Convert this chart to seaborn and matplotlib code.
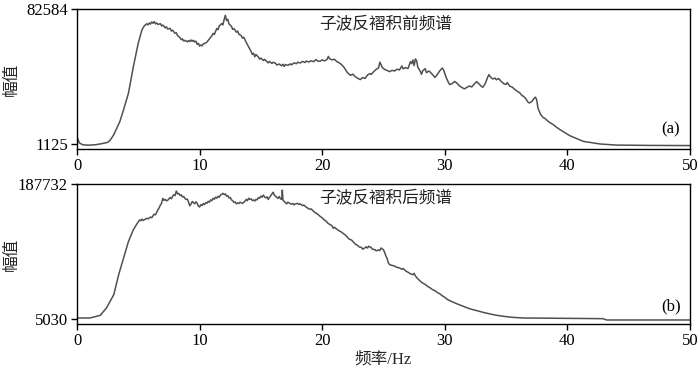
import matplotlib
matplotlib.use("Agg")
import matplotlib.pyplot as plt
import seaborn as sns
import pandas as pd

# ---- data ----
freq_a = [0, 0.2, 0.5, 1.0, 1.5, 2.0, 2.5, 2.7, 3.0, 3.5, 3.8, 4.2, 4.6, 5.0,
          5.3, 5.5, 5.7, 5.8, 5.9, 6.0, 6.1, 6.2, 6.3, 6.4, 6.5, 6.6, 6.8, 6.9, 7.0, 7.2,
          7.3, 7.4, 7.6, 7.7, 7.8, 8.0, 8.1, 8.2, 8.4, 8.5, 8.6, 8.7, 8.8, 9.0, 9.1, 9.2,
          9.3, 9.4, 9.5, 9.6, 9.7, 9.8, 9.9, 10.0, 10.1, 10.2, 10.3, 10.5, 10.6, 10.8, 11.0,
          11.1, 11.2, 11.4, 11.5, 11.6, 11.8, 11.9, 12.0, 12.1, 12.2, 12.3, 12.4, 12.6, 12.7,
          12.8, 13.0, 13.1, 13.2, 13.4, 13.5, 13.6, 13.8, 14.0, 14.2, 14.3, 14.4, 14.5, 14.6,
          14.8, 14.9, 15.0, 15.2, 15.3, 15.5, 15.6, 15.7, 15.9, 16.0, 16.2, 16.3, 16.5, 16.7,
          16.8, 16.9, 17.0, 17.2, 17.4, 17.5, 17.7, 17.9, 18.0, 18.2, 18.4, 18.6, 18.7, 18.9,
          19.1, 19.3, 19.5, 19.6, 19.8, 20.0, 20.2, 20.4, 20.5, 20.6, 20.8, 21.0, 21.2, 21.4,
          21.6, 21.8, 22.0, 22.1, 22.3, 22.5, 22.7, 22.9, 23.1, 23.3, 23.5, 23.7, 23.9, 24.0,
          24.2, 24.4, 24.6, 24.7, 24.8, 24.9, 25.1, 25.3, 25.5, 25.7, 25.9, 26.1, 26.3, 26.5,
          26.6, 26.8, 27.0, 27.2, 27.3, 27.4, 27.5, 27.6, 27.7, 27.8, 28.0, 28.1, 28.2, 28.4,
          28.5, 28.7, 28.8, 29.0, 29.2, 29.3, 29.5, 29.6, 29.8, 29.9, 30.1, 30.3, 30.4, 30.6,
          30.8, 31.0, 31.2, 31.4, 31.6, 31.8, 32.0, 32.2, 32.4, 32.6, 32.8, 33.0, 33.1, 33.3,
          33.5, 33.6, 33.7, 33.9, 34.1, 34.2, 34.4, 34.6, 34.8, 35.0, 35.1, 35.3, 35.5, 35.7,
          35.9, 36.1, 36.3, 36.4, 36.6, 36.8, 36.9, 37.1, 37.3, 37.4, 37.5, 37.6, 37.8, 38.0,
          38.2, 38.4, 38.6, 38.8, 39.0, 39.2, 39.4,
          40.2, 41.3, 42.7, 44.0, 46.7, 49.7, 50]
amp_a = [5350, 1730, 600, 450, 700, 1330, 2130, 3340, 6760, 14800, 21840, 31900, 47980, 62060,
         70100, 72500, 73720, 73000, 74200, 73500, 74800, 74000, 75000, 73600, 74200, 73300,
         73700, 72400, 72900, 71200, 71800, 70500, 70900, 69300, 69800, 67900, 68300, 66600,
         65300, 64100, 64600, 63300, 63700, 62800, 63600, 62900, 63900, 63100, 63700, 62700,
         63200, 61300, 61900, 60200, 60900, 60400, 61500, 62100, 62700, 64500, 66400, 67900,
         67200, 70800, 70100, 72300, 73800, 73000, 76200, 78800, 75600, 76400, 73600, 72100,
         70300, 70800, 68600, 69300, 67400, 66500, 65000, 65600, 62500, 59800, 57000, 55200,
         55900, 53800, 55100, 53600, 52300, 53000, 51500, 52200, 50800, 50100, 51000, 49700,
         50500, 49800, 48800, 49400, 48300, 49300, 47900, 49100, 48600, 49500, 48900, 50100,
         49600, 50500, 50000, 51000, 50300, 51200, 50600, 51400, 50800, 52100, 51300, 51000,
         51900, 51300, 52200, 54000, 52600, 51900, 52300, 50800, 50100, 48900, 47200, 44800,
         43900, 42600, 43300, 41700, 40800, 40000, 41200, 40700, 42800, 43600, 43100, 44800,
         46200, 47000, 50500, 49200, 47300, 46100, 45500, 44800, 45600, 45200, 46300, 45800,
         48200, 46500, 47200, 46700, 50800, 49600, 51900, 48400, 52500, 51400, 47500, 45000,
         43200, 45300, 46600, 44200, 45200, 44600, 43000, 41300, 42200, 44300, 45400, 47000,
         45800, 41500, 38200, 37000, 37600, 38900, 37800, 36200, 35200, 34400, 35300, 36100,
         35600, 37300, 38800, 37300, 35800, 35400, 37600, 41500, 43000, 41800, 40400, 40900,
         39900, 40600, 38900, 37600, 37100, 38200, 36000, 35500, 34100, 33000, 32100, 30400,
         30000, 28600, 26300, 25900, 26800, 28900, 29400, 27600, 22800, 19200, 17300, 16400,
         15000, 13900, 13100, 11900, 10800, 9800,
         6150, 2730, 1125, 500, 300, 200, 200]

freq_b = [0, 1.06, 1.9, 2.4, 3.0, 3.4, 3.8, 4.2,
          4.6, 4.8, 5.0, 5.1, 5.2, 5.3, 5.4, 5.5, 5.7, 5.8, 5.9, 6.0, 6.1, 6.2, 6.3, 6.4,
          6.5, 6.6, 6.7, 6.8, 6.9, 7.0, 7.1, 7.2, 7.3, 7.4, 7.5, 7.6, 7.7, 7.8, 7.9, 8.0,
          8.1, 8.2, 8.3, 8.4, 8.5, 8.6, 8.7, 8.8, 8.9, 9.0, 9.1, 9.2, 9.3, 9.4, 9.5, 9.6,
          9.7, 9.8, 9.9, 10.0, 10.1, 10.2, 10.3, 10.4, 10.5, 10.6, 10.7, 10.8, 10.9, 11.0,
          11.1, 11.2, 11.3, 11.4, 11.5, 11.6, 11.7, 11.8, 11.9, 12.0, 12.1, 12.2, 12.3, 12.4,
          12.5, 12.6, 12.7, 12.8, 12.9, 13.0, 13.1, 13.2, 13.3, 13.4, 13.5, 13.6, 13.7, 13.8,
          13.9, 14.0, 14.1, 14.2, 14.3, 14.4, 14.5, 14.6, 14.7, 14.8, 14.9, 15.0, 15.1, 15.2,
          15.3, 15.4, 15.5, 15.6, 15.7, 15.8, 15.9, 16.0, 16.1, 16.2, 16.3, 16.4, 16.5, 16.6,
          16.7, 16.75, 16.8, 16.9, 17.0, 17.1, 17.2, 17.3, 17.4, 17.5, 17.6, 17.7, 17.8, 18.0,
          18.1, 18.2, 18.4, 18.5, 18.7, 18.8, 19.0, 19.1, 19.3, 19.4, 19.6, 19.7, 19.8, 20.0,
          20.2, 20.3, 20.5, 20.6, 20.8, 20.9, 21.0, 21.2, 21.4, 21.5, 21.7, 21.9, 22.1, 22.2,
          22.4, 22.6, 22.7, 22.9, 23.0, 23.2, 23.3, 23.4, 23.6, 23.7, 23.8, 24.0, 24.1, 24.3,
          24.4, 24.6, 24.7, 24.8, 25.0, 25.1, 25.2, 25.3, 25.4, 25.5, 25.7, 25.9, 26.1, 26.3,
          26.5, 26.6, 26.8, 27.0, 27.2, 27.4, 27.5, 27.6, 27.8, 28.0, 28.2, 28.4, 28.6, 28.8,
          29.0, 29.2, 29.4, 29.6, 29.8, 30.0, 30.2, 30.4,
          31.0, 31.5, 32.0, 32.6, 33.2, 33.7, 34.2, 34.8, 35.5, 36.4, 40.0, 42.9, 43.2, 49.7, 50]
amp_b = [6380, 6380, 9990, 19920, 37960, 65030, 87580, 110140,
         125920, 131500, 136500, 139100, 138000, 140200, 138400, 139500, 141300, 140500,
         141900, 143000, 142100, 144800, 146800, 146000, 149200, 152800, 155500, 159200,
         161800, 168200, 165600, 166900, 164900, 165800, 167700, 169500, 167800, 171200,
         173200, 172100, 178200, 174400, 175000, 172300, 173100, 170200, 170900, 168400,
         166800, 167300, 163100, 158200, 160600, 164000, 162400, 161000, 163600, 161600,
         157900, 156600, 159800, 158500, 161200, 159900, 162600, 161700, 164300, 163100,
         166200, 165100, 168400, 167100, 169900, 168600, 171100, 169800, 172800, 173700,
         175100, 173500, 174300, 171300, 172000, 168800, 169500, 166200, 165200, 162800,
         163400, 160900, 162100, 161300, 163200, 162200, 161500, 163000, 164500, 166800,
         165200, 168500, 166900, 167600, 165400, 166100, 164700, 167000, 166300, 169400,
         168600, 171400, 169900, 172700, 170200, 168900, 170300, 166800, 169600, 171900,
         174000, 176600, 172500, 171400, 169500, 168300, 170800, 167600, 166900, 179500,
         166000, 164200, 162600, 160900, 163100, 162000, 161200, 160400, 161300, 159500,
         160800, 161500, 160100, 160900, 158400, 159300, 156400, 155200, 153400, 154000,
         150700, 149200, 147300, 145900, 144300, 141900, 138600, 137900, 134100, 133200,
         131200, 127800, 129200, 126400, 124100, 123400, 120900, 118500, 115000, 113100,
         111800, 108200, 106300, 104500, 102700, 101900, 99600, 100300, 102800, 101000,
         103500, 101700, 99400, 99000, 97200, 98600, 97600, 101100, 98700, 94800, 90200,
         86700, 80800, 78600, 77600, 76600, 74800, 74200, 72300, 73400, 70200, 68300, 66200,
         65000, 66800, 63400, 59400, 56200, 53600, 51800, 49200, 47200, 44800, 43300, 40800,
         39000, 36400, 34300, 31700, 29800,
         25500, 22170, 19000, 16310, 13700, 11800, 10100, 8640, 7300, 6380, 5900, 5480,
         3680, 3680, 3680]

ticks_a = [1125, 82584]
ticks_b = [5030, 187732]
x_ticks = [0, 10, 20, 30, 40, 50]
title_a = "子波反褶积前频谱"
title_b = "子波反褶积后频谱"
tag_a = "(a)"
tag_b = "(b)"
ylabel = "幅值"
xlabel = "频率/Hz"

# ---- style ----
sns.set_style("ticks")
plt.rcParams['font.family'] = ['Liberation Serif', 'Noto Sans CJK SC', 'DejaVu Sans']
plt.rcParams['axes.linewidth'] = 1.0
cjk = ['Liberation Serif', 'Noto Sans CJK SC']

fig = plt.figure(figsize=(7.0, 3.68), dpi=100)
ax1 = fig.add_axes([0.110, 0.595, 0.8757, 0.3805])
ax2 = fig.add_axes([0.110, 0.1196, 0.8757, 0.3804])

df_a = pd.DataFrame({"f": freq_a, "v": amp_a})
df_b = pd.DataFrame({"f": freq_b, "v": amp_b})
line_color = "#505050"
sns.lineplot(data=df_a, x="f", y="v", ax=ax1, color=line_color, linewidth=1.1)
sns.lineplot(data=df_b, x="f", y="v", ax=ax2, color=line_color, linewidth=1.1)

pad_a = (ticks_a[1] - ticks_a[0]) / 135 * 5
pad_b = (ticks_b[1] - ticks_b[0]) / 135 * 5
ax1.set_ylim(ticks_a[0] - pad_a, ticks_a[1])
ax2.set_ylim(ticks_b[0] - pad_b, ticks_b[1])

for ax, yt, title, tag, ty, tgy in [(ax1, ticks_a, title_a, tag_a, 0.893, 0.143),
                                    (ax2, ticks_b, title_b, tag_b, 0.90, 0.129)]:
    ax.set_xlim(0, 50)
    ax.set_xticks(x_ticks)
    ax.set_yticks(yt)
    ax.set_yticklabels([str(v) for v in yt])
    ax.tick_params(axis='both', direction='out', length=4.5, width=1.0, colors='black',
                   labelsize=12, pad=2)
    for s in ax.spines.values():
        s.set_visible(True)
        s.set_color('black')
    ax.set_xlabel("")
    ax.set_ylabel(ylabel, family=cjk, fontsize=12)
    ax.yaxis.set_label_coords(-0.093, 0.5)
    ax.text(0.504, ty, title, transform=ax.transAxes, ha='center', va='center',
            family=cjk, fontsize=12, color='#222222')
    ax.text(0.969, tgy, tag, transform=ax.transAxes, ha='center', va='center',
            fontsize=12, color='black')

ax2.set_xlabel(xlabel, family=cjk, fontsize=12, labelpad=2)

fig.savefig("out.png", dpi=100, facecolor='white')
